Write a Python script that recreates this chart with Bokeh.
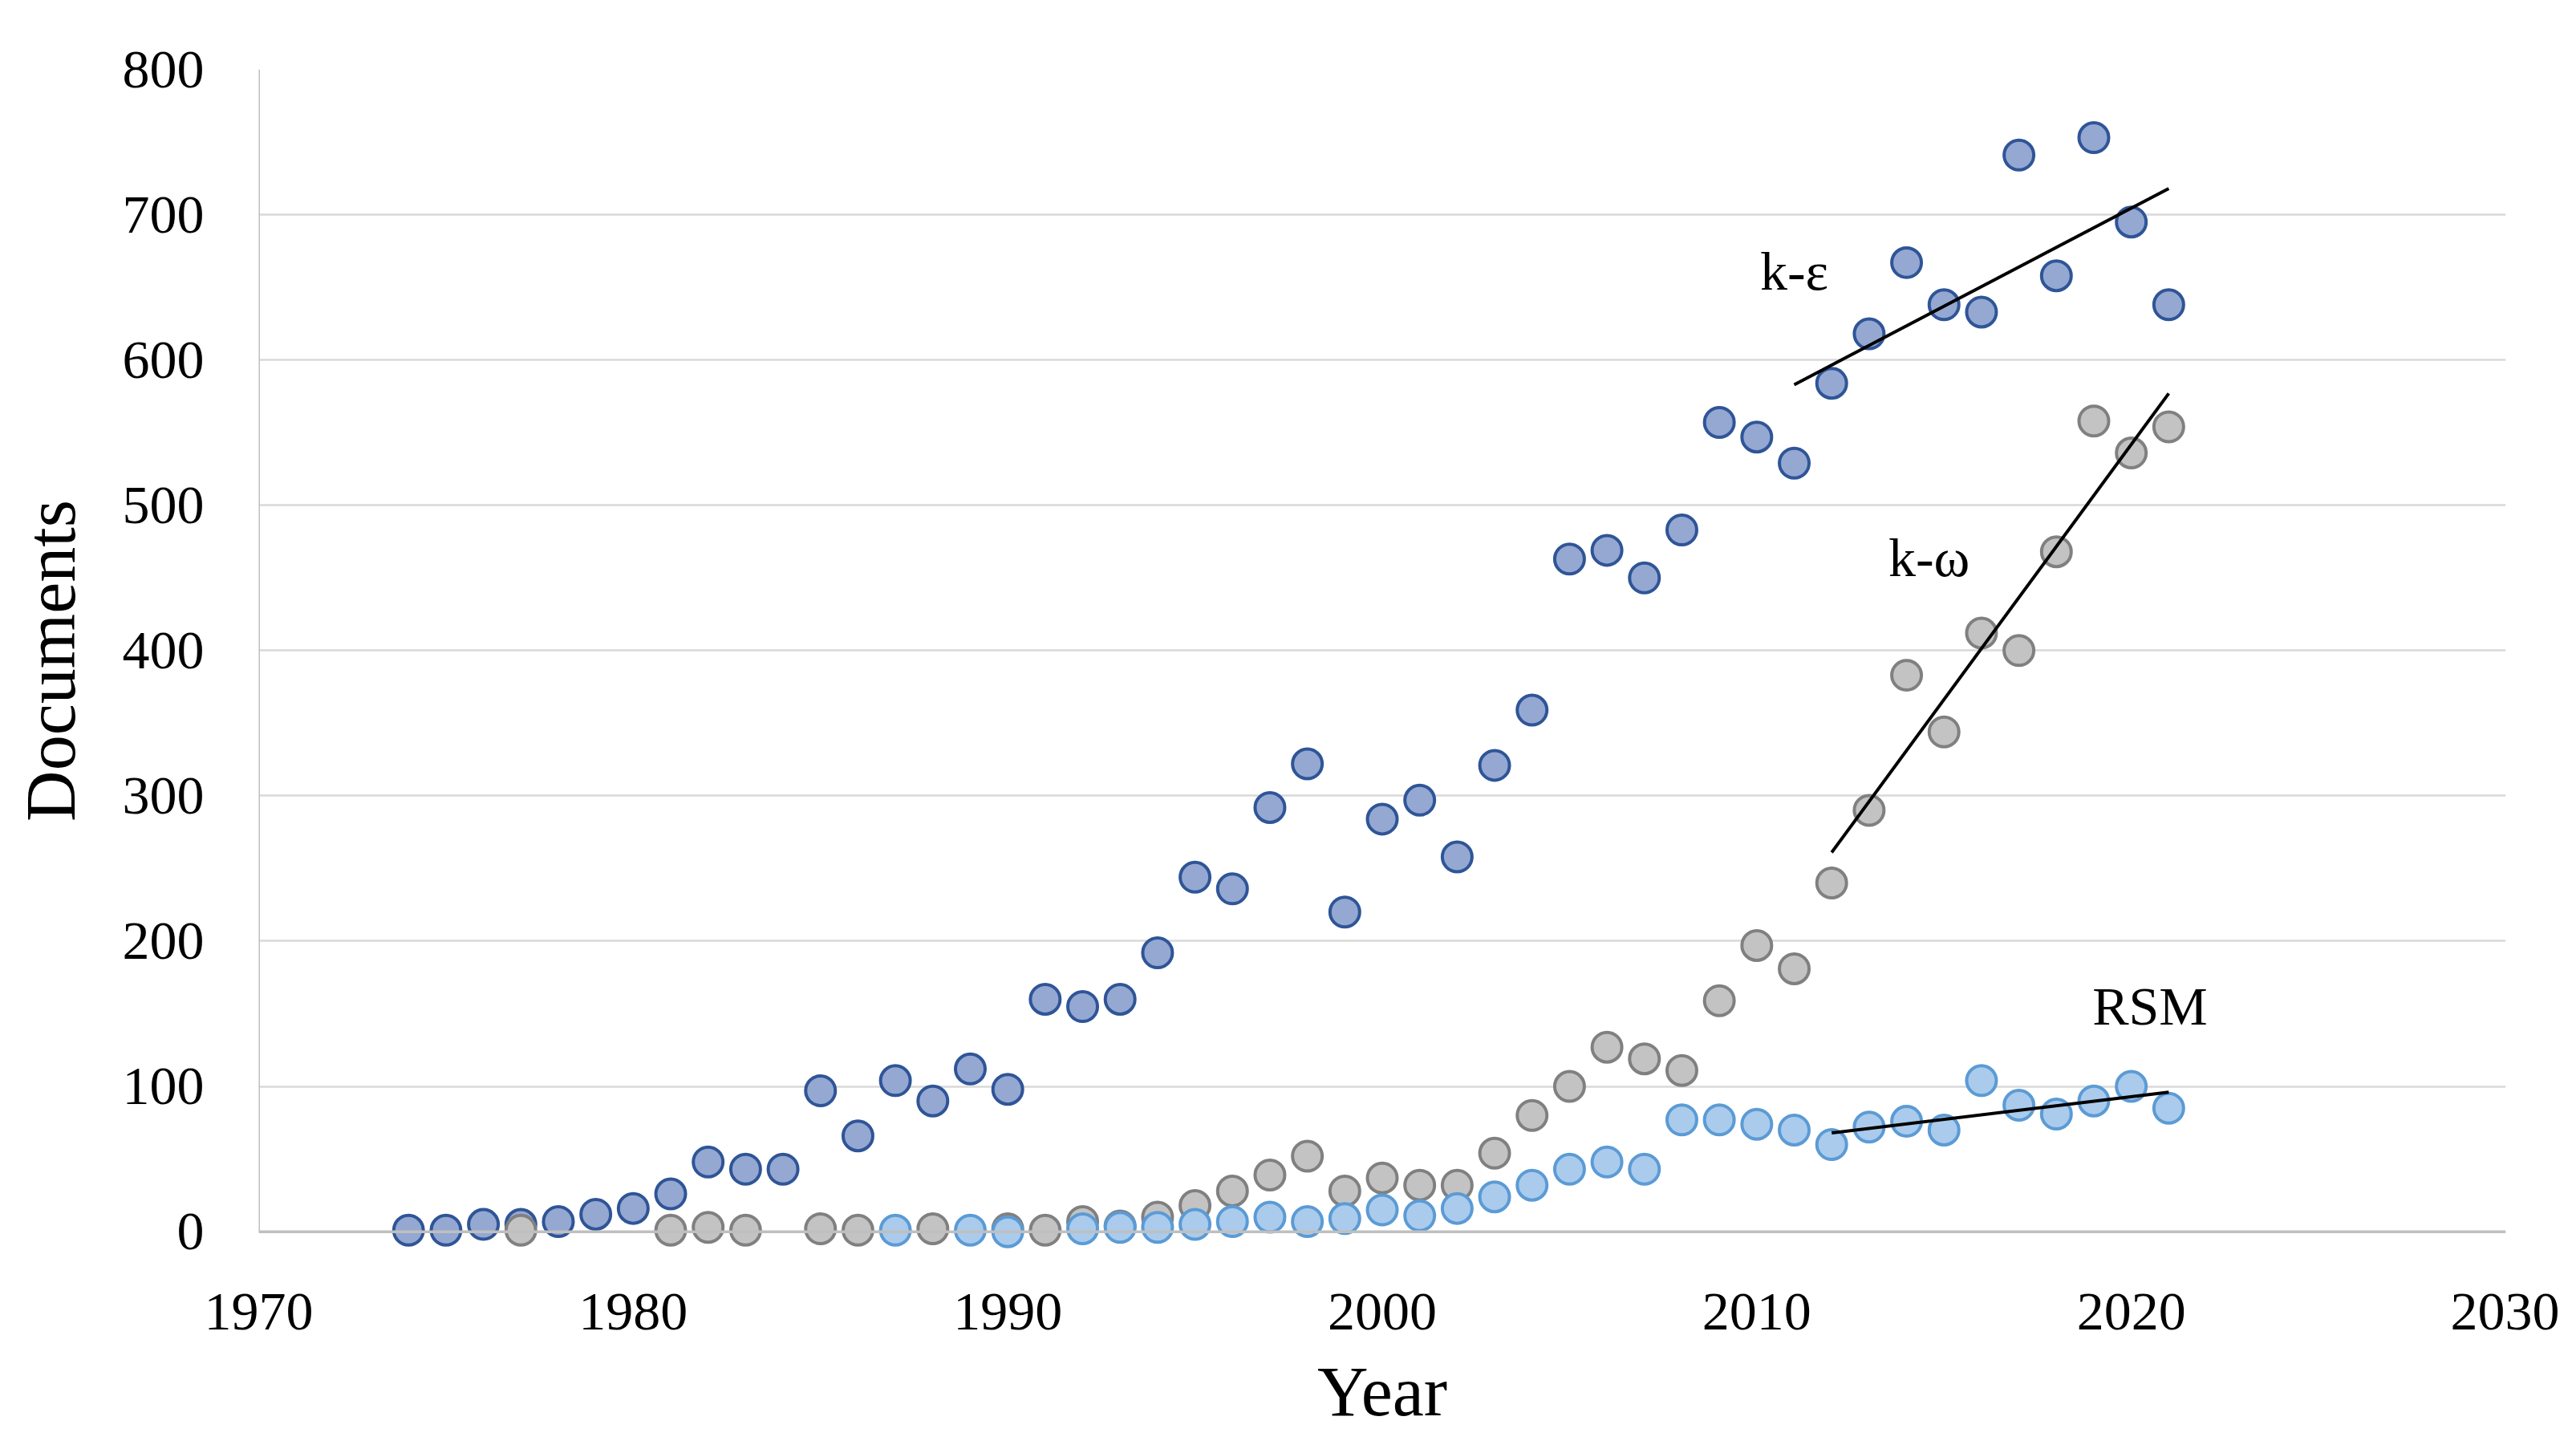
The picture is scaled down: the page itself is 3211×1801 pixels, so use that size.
from bokeh.plotting import figure
from bokeh.models import Range1d, FixedTicker, Span
from bokeh.core.properties import value
from bokeh.embed import file_html
from bokeh.resources import INLINE

# ---- data ----
ke_years = list(range(1974, 2022))
ke_docs = [1, 1, 5, 5, 7, 12, 16, 26, 48, 43, 43, 97, 66, 104, 90, 112, 98,
           160, 155, 160, 192, 244, 236, 292, 322, 220, 284, 297, 258, 321, 359,
           463, 469, 450, 483, 557, 547, 529, 584, 618, 667, 638, 633, 741, 658,
           753, 695, 638]

kw_years = [1977, 1981, 1982, 1983, 1985, 1986, 1988, 1990] + list(range(1991, 2022))
kw_docs = [1, 1, 3, 1, 2, 1, 2, 2,
           1, 7, 4, 10, 18, 28, 39, 52, 28, 37, 32, 32, 54, 80, 100, 127, 119, 111,
           159, 197, 181, 240, 290, 383, 344, 412, 400, 468, 558, 536, 554]

rsm_years = [1987, 1989, 1990] + list(range(1992, 2022))
rsm_docs = [1, 1, 0,
            2, 3, 3, 5, 7, 10, 7, 9, 15, 11, 16, 24, 32, 43, 48, 43, 77,
            77, 74, 70, 60, 72, 76, 70, 104, 87, 81, 90, 100, 85]

# trend lines (end points)
ke_trend_x = [2011, 2021]
ke_trend_y = [583, 718]
kw_trend_x = [2012, 2021]
kw_trend_y = [261, 577]
rsm_trend_x = [2012, 2021]
rsm_trend_y = [68, 96]

labels = ["k-ε", "k-ω", "RSM"]
label_x = [2011.0, 2014.6, 2020.5]
label_y = [661, 464, 155]

x_ticks = [1970, 1980, 1990, 2000, 2010, 2020, 2030]
y_ticks = [0, 100, 200, 300, 400, 500, 600, 700, 800]

FONT = "Liberation Serif"

p = figure(width=3190, height=1785,
           x_range=Range1d(1970, 2030), y_range=Range1d(-14, 800),
           output_backend="svg", toolbar_location=None,
           min_border_left=322, min_border_right=67,
           min_border_top=86, min_border_bottom=224)
p.outline_line_color = None
p.background_fill_color = "white"
p.border_fill_color = "white"

# axes
p.xaxis.ticker = FixedTicker(ticks=x_ticks)
p.yaxis.ticker = FixedTicker(ticks=y_ticks)
for ax in (p.xaxis, p.yaxis):
    ax.axis_line_color = None
    ax.major_tick_line_color = None
    ax.minor_tick_line_color = None
    ax.major_label_text_font = FONT
    ax.major_label_text_font_size = "68px"
    ax.major_label_text_color = "black"
    ax.axis_label_text_font = FONT
    ax.axis_label_text_font_size = "88px"
    ax.axis_label_text_font_style = "normal"
    ax.axis_label_text_color = "black"
p.xaxis.major_label_standoff = 46
p.yaxis.major_label_standoff = 62
p.xaxis.axis_label = "Year"
p.yaxis.axis_label = "Documents"
p.xaxis.axis_label_standoff = 26
p.yaxis.axis_label_standoff = 38

p.xgrid.grid_line_color = None
p.ygrid.grid_line_color = "#D9D9D9"
p.ygrid.grid_line_width = 2.5

# zero line and left axis line
p.add_layout(Span(location=0, dimension="width", line_color="#BFBFBF", line_width=3.5))
p.segment(x0=[x_ticks[0]], y0=[y_ticks[0]], x1=[x_ticks[0]], y1=[y_ticks[-1]],
          line_color="#BFBFBF", line_width=3)

# series
p.scatter(ke_years, ke_docs, marker="circle", size=37,
          fill_color="#95A8D2", line_color="#2F5597", line_width=4)
p.scatter(kw_years, kw_docs, marker="circle", size=37,
          fill_color="#C3C3C3", line_color="#808080", line_width=4)
p.scatter(rsm_years, rsm_docs, marker="circle", size=37,
          fill_color="#AACBEC", line_color="#5B9BD5", line_width=4)

# trend lines
p.line(ke_trend_x, ke_trend_y, line_color="black", line_width=4)
p.line(kw_trend_x, kw_trend_y, line_color="black", line_width=4)
p.line(rsm_trend_x, rsm_trend_y, line_color="black", line_width=4)

# labels
p.text(x=label_x, y=label_y, text=labels, text_font=value(FONT),
       text_font_size="68px", text_align="center", text_baseline="middle",
       text_color="black")

open("out.html", "w").write(file_html(p, INLINE))
